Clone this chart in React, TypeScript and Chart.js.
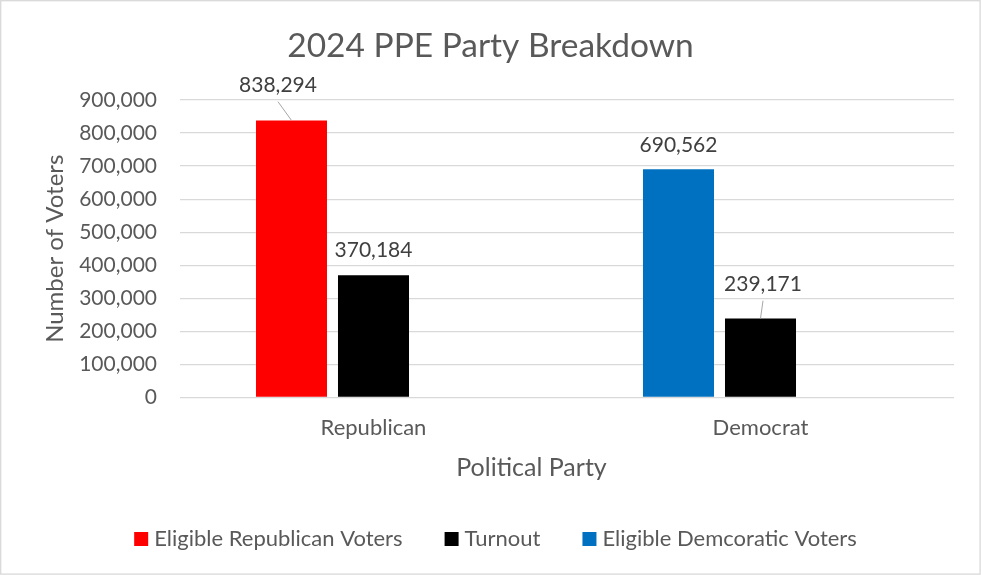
import React, { useEffect, useRef } from 'react';
import { Chart, registerables } from 'chart.js';

Chart.register(...registerables);

const categories = ['Republican', 'Democrat'];
const seriesLabels = ['Eligible Republican Voters', 'Turnout', 'Eligible Demcoratic Voters'];
const eligibleVoters = [838294, 690562];
const turnout = [370184, 239171];
const eligibleDemocraticVoters: (number | null)[] = [null, null];
const yMin = 0;
const yMax = 900000;
const yStep = 100000;
const chartTitle = '2024 PPE Party Breakdown';
const xAxisTitle = 'Political Party';
const yAxisTitle = 'Number of Voters';

const FONT = 'Lato, "Noto Sans", sans-serif';
const TEXT = '#595959';
const RED = '#FF0000';
const BLACK = '#000000';
const BLUE = '#0070C0';

// label placement tweaks (pixel offsets relative to bar top) for the two labels with leader lines
const labelOffsets: Record<string, { dx: number; dy: number; leader: boolean }> = {
  '0:0': { dx: -13.5, dy: -28.7, leader: true },
  '1:1': { dx: 2.5, dy: -27.7, leader: true },
};

const backgroundPlugin = {
  id: 'bgBorder',
  beforeDraw(chart: any) {
    const { ctx, width, height } = chart;
    ctx.save();
    ctx.fillStyle = '#FFFFFF';
    ctx.fillRect(0, 0, width, height);
    ctx.strokeStyle = '#D9D9D9';
    ctx.lineWidth = 1.3;
    ctx.strokeRect(0.7, 0.7, width - 1.6, height - 1.6);
    ctx.restore();
  },
};

const titlesPlugin = {
  id: 'titles',
  afterDraw(chart: any) {
    const { ctx } = chart;
    ctx.save();
    ctx.fillStyle = TEXT;
    ctx.textAlign = 'center';
    ctx.textBaseline = 'alphabetic';
    ctx.font = `33.5px ${FONT}`;
    ctx.fillText(chartTitle, 490.5, 57);
    ctx.font = `25px ${FONT}`;
    ctx.fillText(xAxisTitle, 531.5, 476);
    ctx.restore();
  },
};

const dataLabelPlugin = {
  id: 'dataLabels',
  afterDatasetsDraw(chart: any) {
    const { ctx } = chart;
    ctx.save();
    ctx.font = `21px ${FONT}`;
    ctx.fillStyle = '#404040';
    ctx.textAlign = 'center';
    ctx.textBaseline = 'alphabetic';
    chart.data.datasets.forEach((ds: any, di: number) => {
      const meta = chart.getDatasetMeta(di);
      meta.data.forEach((el: any, i: number) => {
        const v = ds.data[i];
        if (v === null || v === undefined) return;
        const text = Number(v).toLocaleString('en-US');
        const off = labelOffsets[`${di}:${i}`];
        const dx = off ? off.dx : 0;
        const dy = off ? off.dy : -17.7;
        const tx = el.x + dx;
        const ty = el.y + dy;
        ctx.fillText(text, tx, ty);
        if (off && off.leader) {
          ctx.save();
          ctx.strokeStyle = '#A6A6A6';
          ctx.lineWidth = 1;
          ctx.beginPath();
          ctx.moveTo(tx, ty + 10);
          ctx.lineTo(el.x, el.y);
          ctx.stroke();
          ctx.restore();
        }
      });
    });
    ctx.restore();
  },
};

const legendPlugin = {
  id: 'customLegend',
  afterDraw(chart: any) {
    const { ctx } = chart;
    ctx.save();
    ctx.font = `22px ${FONT}`;
    ctx.textBaseline = 'alphabetic';
    ctx.textAlign = 'left';
    const items = chart.data.datasets.map((ds: any) => ({
      text: ds.label as string,
      color: Array.isArray(ds.backgroundColor) ? ds.backgroundColor[0] : ds.backgroundColor,
    }));
    const box = 14;
    const gapText = 6;
    const gapItem = 42;
    const widths = items.map((it: any) => box + gapText + ctx.measureText(it.text).width);
    const total = widths.reduce((a: number, b: number) => a + b, 0) + gapItem * (items.length - 1);
    let x = 495.5 - total / 2;
    const boxTop = 532;
    const baseline = 546;
    items.forEach((it: any, k: number) => {
      ctx.fillStyle = it.color;
      ctx.fillRect(x, boxTop, box, box);
      ctx.fillStyle = TEXT;
      ctx.fillText(it.text, x + box + gapText, baseline);
      x += widths[k] + gapItem;
    });
    ctx.restore();
  },
};

export default function App() {
  const ref = useRef<HTMLCanvasElement | null>(null);

  useEffect(() => {
    document.body.style.margin = '0';
    const canvas = ref.current;
    if (!canvas) return;
    const chart = new Chart(canvas, {
      type: 'bar',
      data: {
        labels: categories,
        datasets: [
          {
            label: seriesLabels[0],
            data: eligibleVoters,
            backgroundColor: [RED, BLUE],
            categoryPercentage: 0.6357,
            barPercentage: 0.866,
          },
          {
            label: seriesLabels[1],
            data: turnout,
            backgroundColor: BLACK,
            categoryPercentage: 0.6357,
            barPercentage: 0.866,
          },
          {
            label: seriesLabels[2],
            data: eligibleDemocraticVoters,
            backgroundColor: BLUE,
            categoryPercentage: 0.6357,
            barPercentage: 0.866,
          },
        ],
      },
      options: {
        responsive: false,
        animation: false,
        devicePixelRatio: 1,
        layout: { padding: { left: 0, right: 27, top: 100, bottom: 94.5 } },
        plugins: {
          legend: { display: false },
          tooltip: { enabled: false },
          title: { display: false },
        },
        scales: {
          x: {
            grid: { display: false, drawTicks: false },
            border: { display: false },
            ticks: {
              color: TEXT,
              font: { family: FONT, size: 22, lineHeight: 1.2 },
              padding: 17,
            },
            title: { display: false },
            afterFit(scale: any) {
              scale.height = 83;
            },
          },
          y: {
            min: yMin,
            max: yMax,
            grid: { color: '#D9D9D9', lineWidth: 1.3, drawTicks: false },
            border: { display: false },
            ticks: {
              stepSize: yStep,
              color: TEXT,
              font: { family: FONT, size: 21, lineHeight: 1.2 },
              padding: 23,
              callback: (v: any) => Number(v).toLocaleString('en-US'),
            },
            title: {
              display: true,
              text: yAxisTitle,
              color: TEXT,
              font: { family: FONT, size: 24, lineHeight: 1.2 },
              padding: { top: 40.6, bottom: 0 },
            },
            afterFit(scale: any) {
              scale.width = 180;
            },
          },
        },
      },
      plugins: [backgroundPlugin, dataLabelPlugin, titlesPlugin, legendPlugin],
    });
    return () => chart.destroy();
  }, []);

  return (
    <div style={{ width: 981, height: 575 }}>
      <canvas ref={ref} width={981} height={575} style={{ display: 'block' }} />
    </div>
  );
}
